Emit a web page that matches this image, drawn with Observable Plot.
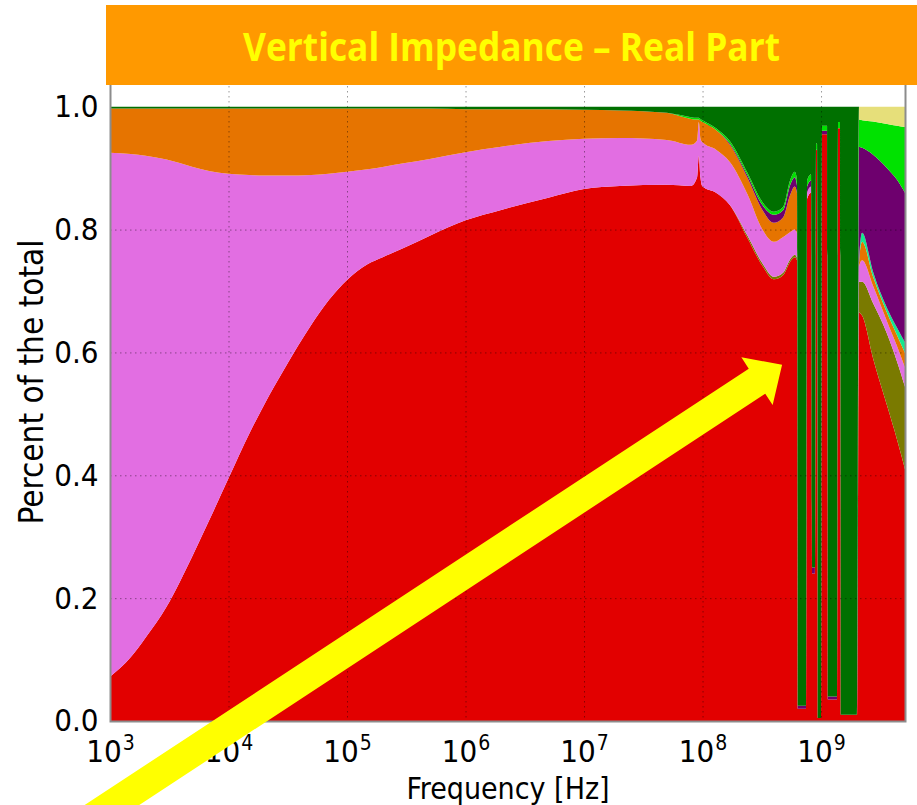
<!DOCTYPE html>
<html>
<head>
<meta charset="utf-8">
<script src="https://cdn.jsdelivr.net/npm/d3@7"></script>
<script src="https://cdn.jsdelivr.net/npm/@observablehq/plot@0.6"></script>
<style>
  html, body { margin: 0; padding: 0; background: #fff; overflow: hidden; }
  #wrap { position: relative; width: 917px; height: 805px; }
  #banner { position: absolute; left: 106px; top: 5px; width: 811px; height: 80px; background: #ff9900; }
  #banner svg { display: block; }
</style>
</head>
<body>
<div id="wrap">
  <div id="chart"></div>
  <div id="banner">
    <svg width="811" height="80">
      <text x="405.5" y="56" text-anchor="middle" font-family="'Open Sans', 'Noto Sans', sans-serif" font-weight="700" font-size="40" fill="#ffff00" textLength="537" lengthAdjust="spacingAndGlyphs">Vertical Impedance – Real Part</text>
    </svg>
  </div>
</div>
<script>
// Share of each contribution in the real part of the vertical impedance,
// sampled at these frequencies (Hz). Series are listed bottom to top.
const freq = [
  1e3, 1.5e3, 2e3, 3e3, 5e3, 7e3,
  1e4, 1.5e4, 2e4, 3e4, 5e4, 7e4,
  1e5, 1.5e5, 2e5, 3e5, 5e5,
  1e6, 2e6, 5e6,
  1e7, 2e7, 5e7, 8e7, 9e7, 9.3e7, 9.6e7,
  1e8, 1.3e8, 1.7e8, 2.4e8, 3.2e8, 4e8, 4.8e8, 5.5e8, 6.0e8,
  6.27e8, 6.40e8, 7.47e8, 7.62e8, 8.23e8, 8.40e8, 8.90e8, 9.08e8, 9.25e8, 9.43e8,
  1.00e9, 1.02e9, 1.124e9, 1.146e9, 1.365e9, 1.392e9, 1.446e9, 1.475e9, 2.013e9,
  2.09e9, 2.22e9, 2.75e9, 3.61e9, 4.38e9, 5.11e9
];

const redPart = [
  .072, .104, .136, .186, .270, .330,
  .395, .468, .515, .575, .645, .685,
  .718, .744, .755, .770, .790,
  .815, .832, .852,
  .866, .871, .873, .871, .885, .920, .885,
  .870, .860, .840, .786, .741, .719, .726, .748, .755,
  .750, .020, .020, .850, .860, .240, .240, .930, .930, .005,
  .005, .955, .955, .035, .035, .965, .965, .010, .010,
  .665, .660, .590, .513, .458, .410
];
const olivePart = [
  0, 0, 0, 0, 0, 0,
  0, 0, 0, 0, 0, 0,
  0, 0, 0, 0, 0,
  0, 0, 0,
  0, 0, 0, 0, 0, 0, 0,
  0, 0, 0, .004, .004, .004, .004, .004, .004,
  .004, 0, 0, 0, 0, 0, 0, 0, 0, 0,
  0, 0, 0, 0, 0, 0, 0, 0, 0,
  .050, .055, .090, .117, .127, .134
];
const violetPart = [
  .853, .819, .784, .728, .632, .565,
  .496, .421, .373, .313, .244, .206,
  .176, .154, .147, .138, .125,
  .111, .103, .092,
  .082, .078, .073, .067, .060, .055, .063,
  .072, .070, .070, .067, .055, .057, .058, .044, .041,
  .040, 0, 0, .010, .010, 0, 0, 0, 0, 0,
  0, 0, 0, 0, 0, 0, 0, 0, 0,
  .025, .035, .028, .020, .025, .031
];
const orangePart = [
  .072, .074, .077, .083, .095, .102,
  .106, .108, .109, .109, .108, .106,
  .103, .099, .095, .089, .082,
  .070, .061, .052,
  .047, .045, .044, .042, .034, .004, .029,
  .033, .032, .028, .027, .032, .031, .032, .061, .070,
  .065, 0, 0, 0, 0, 0, 0, 0, 0, 0,
  0, 0, 0, 0, 0, 0, 0, 0, 0,
  .005, .030, .015, .014, .018, .024
];
const tealPart = [
  0, 0, 0, 0, 0, 0,
  0, 0, 0, 0, 0, 0,
  0, 0, 0, 0, 0,
  0, 0, 0,
  0, 0, 0, 0, 0, 0, 0,
  0, 0, 0, 0, 0, 0, 0, 0, 0,
  0, 0, 0, 0, 0, 0, 0, 0, 0, 0,
  0, 0, 0, 0, 0, 0, 0, 0, 0,
  .003, .015, .008, .008, .012, .017
];
const purplePart = [
  0, 0, 0, 0, 0, 0,
  0, 0, 0, 0, 0, 0,
  0, 0, 0, 0, 0,
  0, 0, 0,
  0, 0, 0, 0, 0, 0, 0,
  0, 0, .002, .004, .008, .013, .012, .016, .015,
  .012, .005, .005, .010, .010, .010, .010, 0, 0, 0,
  0, .006, .006, .005, .005, 0, 0, 0, 0,
  .187, .138, .191, .228, .241, .244
];
const limePart = [
  0, 0, 0, 0, 0, 0,
  0, 0, 0, 0, 0, 0,
  0, 0, 0, 0, 0,
  0, 0, 0,
  0, 0, 0, .003, .003, .003, .003,
  .003, .003, .004, .004, .005, .005, .005, .008, .009,
  .009, 0, 0, .010, .010, 0, 0, .010, .010, 0,
  0, .008, .008, 0, 0, .010, .010, 0, 0,
  .044, .045, .054, .072, .088, .107
];
const khakiPart = [
  0, 0, 0, 0, 0, 0,
  0, 0, 0, 0, 0, 0,
  0, 0, 0, 0, 0,
  0, 0, 0,
  0, 0, 0, 0, 0, 0, 0,
  0, 0, 0, 0, 0, 0, 0, 0, 0,
  0, 0, 0, 0, 0, 0, 0, 0, 0, 0,
  0, 0, 0, 0, 0, 0, 0, 0, 0,
  .021, .022, .024, .028, .031, .033
];
const greenPart = [
  .003, .003, .003, .003, .003, .003,
  .003, .003, .003, .003, .003, .003,
  .003, .003, .003, .003, .003,
  .004, .004, .004,
  .005, .006, .010, .017, .018, .018, .020,
  .022, .035, .056, .108, .155, .171, .163, .119, .106,
  .120, .975, .975, .120, .110, .750, .750, .060, .060, .995,
  .995, .031, .031, .960, .960, .025, .025, .990, .990,
  0, 0, 0, 0, 0, 0
];

// Stack order (bottom to top) and fill for each contribution
const seriesNames = ["s1", "s2", "s3", "s4", "s5", "s6", "s7", "s8", "s9"];
const seriesValues = [redPart, olivePart, violetPart, orangePart, tealPart, purplePart, limePart, khakiPart, greenPart];
const seriesColors = ["#e20000", "#7a7a00", "#e26ee2", "#e67400", "#12e88e", "#6e006e", "#00e200", "#e6df7a", "#007000"];

const xTicks = [1e3, 1e4, 1e5, 1e6, 1e7, 1e8, 1e9];
const yTicks = [0, 0.2, 0.4, 0.6, 0.8, 1.0];

// Annotation arrow, given in data coordinates (tail runs off the bottom edge)
const arrowTail = {freq: 229, value: -0.22};
const arrowTip = {freq: 4.69e8, value: 0.58};

// Long-format table for the stacked areas
const rows = [];
freq.forEach((f, i) => {
  seriesNames.forEach((s, k) => rows.push({freq: f, series: s, share: seriesValues[k][i]}));
});

const sup = {"3": "³", "4": "⁴", "5": "⁵", "6": "⁶", "7": "⁷", "8": "⁸", "9": "⁹"};
const font = "'DejaVu Sans Condensed', 'DejaVu Sans', sans-serif";

const chart = Plot.plot({
  width: 917,
  height: 805,
  marginLeft: 110,
  marginRight: 12,
  marginTop: 76,
  marginBottom: 84,
  style: {fontFamily: font, fontSize: "31px", color: "#000", background: "#fff"},
  x: {type: "log", domain: [1e3, 5.11e9]},
  y: {domain: [0, 1.05]},
  color: {type: "ordinal", domain: seriesNames, range: seriesColors},
  marks: [
    Plot.areaY(rows, {
      x: "freq", y: "share", z: "series", fill: "series",
      order: seriesNames, curve: "monotone-x"
    }),
    Plot.gridX({ticks: xTicks.slice(1), stroke: "#000", strokeOpacity: 0.4, strokeDasharray: "1.5,3.5", strokeWidth: 1}),
    Plot.gridY({ticks: [0.2, 0.4, 0.6, 0.8], stroke: "#000", strokeOpacity: 0.4, strokeDasharray: "1.5,3.5", strokeWidth: 1}),
    Plot.frame({stroke: "#8c8c8c", strokeWidth: 2}),
    Plot.axisX({
      ticks: xTicks, tickSize: 0, tickPadding: 18, label: null, fontSize: 31,
      tickFormat: (d) => "10" + sup[String(Math.round(Math.log10(d)))]
    }),
    Plot.axisY({
      ticks: yTicks, tickSize: 0, tickPadding: 12, label: null, fontSize: 31,
      tickFormat: d3.format(".1f")
    }),
    Plot.text(["Frequency [Hz]"], {frameAnchor: "bottom", textAnchor: "middle", lineAnchor: "middle", dy: 67.5, fontSize: 30, fill: "#000"}),
    Plot.text(["Percent of the total"], {frameAnchor: "left", textAnchor: "middle", lineAnchor: "middle", rotate: -90, dx: -78, dy: -17, fontSize: 33, fill: "#000"})
  ]
});

chart.style.overflow = "hidden";
document.getElementById("chart").appendChild(chart);

// Write decade labels as 10 with a raised exponent
const xLabels = chart.querySelectorAll('g[aria-label="x-axis tick label"] text');
xLabels.forEach((t, i) => {
  const exp = String(Math.round(Math.log10(xTicks[i])));
  t.textContent = "";
  const base = document.createElementNS("http://www.w3.org/2000/svg", "tspan");
  base.textContent = "10";
  const e = document.createElementNS("http://www.w3.org/2000/svg", "tspan");
  e.textContent = exp;
  e.setAttribute("font-size", "21");
  e.setAttribute("dy", "-12");
  e.setAttribute("dx", "1");
  t.appendChild(base);
  t.appendChild(e);
});

// Yellow annotation arrow, placed through the chart's own scales
const sx = chart.scale("x"), sy = chart.scale("y");
const x0 = sx.apply(arrowTail.freq), y0 = sy.apply(arrowTail.value);
const x1 = sx.apply(arrowTip.freq), y1 = sy.apply(arrowTip.value);
const len = Math.hypot(x1 - x0, y1 - y0);
const ux = (x1 - x0) / len, uy = (y1 - y0) / len;
const nx = -uy, ny = ux;
const shaftHalf = 15, headHalf = 28.5, headLen = 30;
const bx = x1 - ux * headLen, by = y1 - uy * headLen;
const pts = [
  [x0 + nx * shaftHalf, y0 + ny * shaftHalf],
  [bx + nx * shaftHalf, by + ny * shaftHalf],
  [bx + nx * headHalf, by + ny * headHalf],
  [x1, y1],
  [bx - nx * headHalf, by - ny * headHalf],
  [bx - nx * shaftHalf, by - ny * shaftHalf],
  [x0 - nx * shaftHalf, y0 - ny * shaftHalf]
];
d3.select(chart).append("polygon")
  .attr("points", pts.map((p) => p.join(",")).join(" "))
  .attr("fill", "#ffff00");
</script>
</body>
</html>
